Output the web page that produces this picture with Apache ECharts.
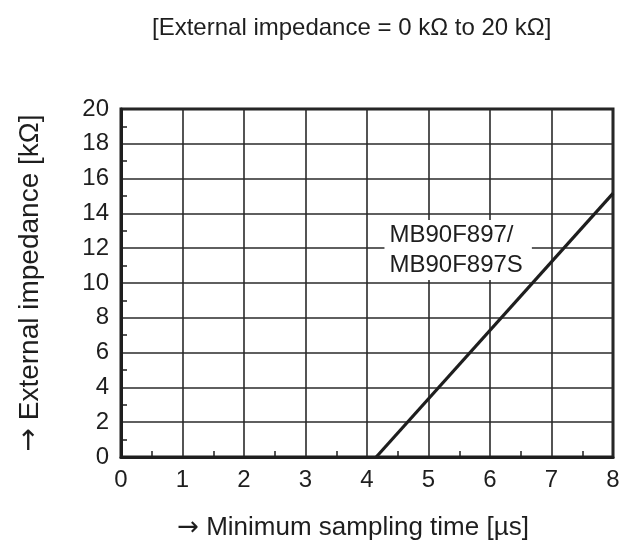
<!DOCTYPE html>
<html><head><meta charset="utf-8">
<script src="https://cdn.jsdelivr.net/npm/echarts@6/dist/echarts.min.js"></script>
<style>html,body{margin:0;padding:0;background:#fff}#c{width:629px;height:546px}</style>
</head><body><div id="c"></div>
<script>
const titleText = '[External impedance = 0 k\u03A9 to 20 k\u03A9]';
const xName = 'Minimum sampling time [\u00B5s]';
const yName = 'External impedance [k\u03A9]';
const arrow = '\u2192';
const xRange = [0, 8];
const yRange = [0, 20];
const curveX = [4.15, 8];
const curveY = [0, 15.15];
const curveLabel = 'MB90F897/\nMB90F897S';
const labelAnchor = [4.284, 11.9];

const chart = echarts.init(document.getElementById('c'), null, {renderer: 'canvas'});
const font = 'Liberation Sans, Arial, sans-serif';
const ink = '#1e1e1e';
function nameStyle(size) {
  return {
    fontFamily: font, fontSize: size, color: ink,
    rich: {
      a: {fontFamily: 'DejaVu Sans', fontSize: size, color: ink},
      t: {fontFamily: font, fontSize: size, color: ink}
    }
  };
}
chart.setOption({
  animation: false,
  backgroundColor: '#fff',
  title: {text: titleText, left: 147, top: 11, textStyle: {fontFamily: font, fontSize: 24, fontWeight: 'normal', color: ink}},
  grid: {left: 121, right: 16, top: 109, bottom: 82, show: true, borderColor: ink, borderWidth: 3, backgroundColor: 'transparent'},
  xAxis: {
    type: 'value', min: xRange[0], max: xRange[1], interval: 1,
    name: '{a|' + arrow + '}{t| ' + xName + '}', nameLocation: 'middle', nameGap: 58,
    nameTextStyle: Object.assign(nameStyle(26), {padding: [0, 28, 0, 0]}),
    axisLine: {show: true, lineStyle: {color: ink, width: 3}},
    axisTick: {show: false, inside: true},
    minorTick: {show: true, splitNumber: 2, length: 6, lineStyle: {color: ink, width: 1.5}},
    axisLabel: {fontFamily: font, fontSize: 24, color: ink, margin: 11},
    splitLine: {show: true, lineStyle: {color: '#2a2a2a', width: 1.6}}
  },
  yAxis: {
    type: 'value', min: yRange[0], max: yRange[1], interval: 2,
    name: '{a|' + arrow + '}{t| ' + yName + '}', nameLocation: 'middle', nameGap: 77, nameRotate: 90,
    nameTextStyle: nameStyle(28),
    axisLine: {show: true, lineStyle: {color: ink, width: 3}},
    axisTick: {show: false, inside: true},
    minorTick: {show: true, splitNumber: 2, length: 6, lineStyle: {color: ink, width: 1.5}},
    axisLabel: {fontFamily: font, fontSize: 24, color: ink, margin: 12},
    splitLine: {show: true, lineStyle: {color: '#2a2a2a', width: 1.6}}
  },
  series: [
    {
      type: 'line', data: curveX.map((x, i) => [x, curveY[i]]), symbol: 'none',
      lineStyle: {color: ink, width: 3.2}, z: 3
    },
    {
      type: 'scatter', data: [labelAnchor], symbolSize: 0, z: 4,
      itemStyle: {opacity: 1},
      label: {show: true, position: 'right', distance: 0, formatter: curveLabel, fontFamily: font, fontSize: 24, lineHeight: 30, color: ink,
        backgroundColor: '#fff', padding: [0, 9, 0, 5], align: 'left', verticalAlign: 'middle'}
    }
  ]
});
</script></body></html>
